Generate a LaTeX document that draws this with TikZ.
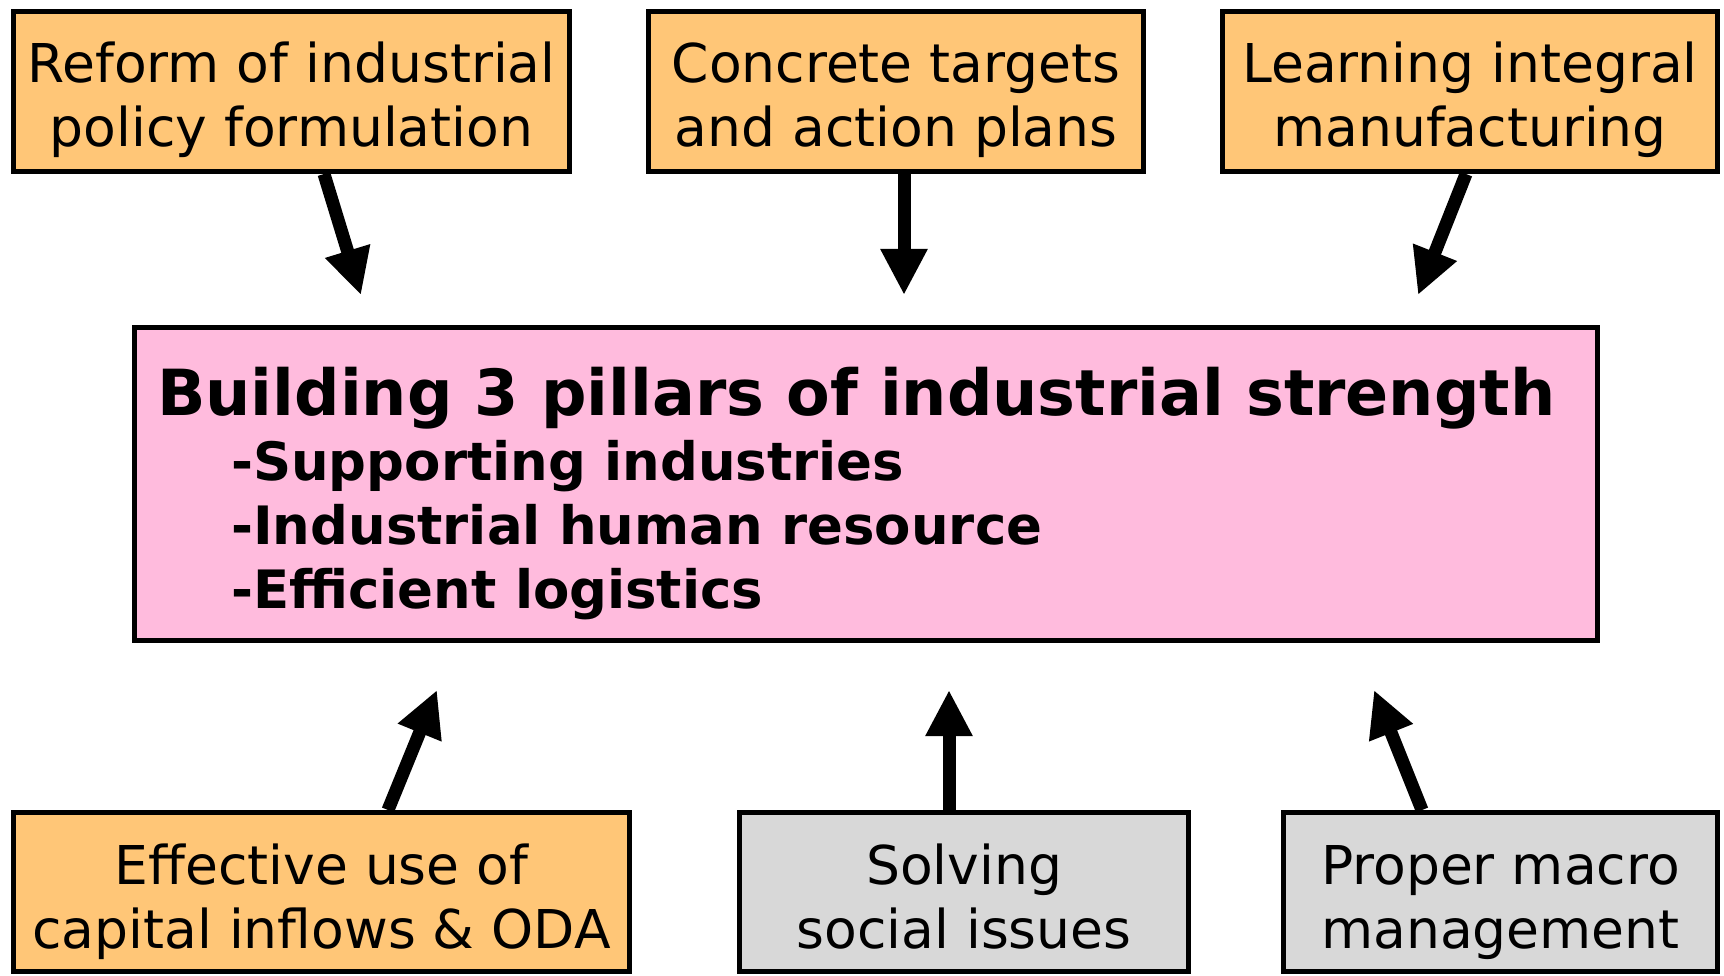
\documentclass[tikz,border=0pt]{standalone}
\usepackage{fontspec}
\setmainfont{DejaVu Sans}
\usetikzlibrary{arrows.meta}
\definecolor{boxorange}{HTML}{FFC677}
\definecolor{boxpink}{HTML}{FFBBDD}
\definecolor{boxgray}{HTML}{D8D8D8}
\begin{document}
\begin{tikzpicture}[x=1pt,y=-1pt,
  box/.style={draw=black, line width=5pt, rectangle, inner sep=0pt},
  obox/.style={box, fill=boxorange},
  gbox/.style={box, fill=boxgray},
  pbox/.style={box, fill=boxpink},
  lbl/.style={align=center, inner sep=0pt, font=\fontsize{53.5}{64}\selectfont},
  ttl/.style={anchor=base west, inner sep=0pt, font=\fontsize{63.6}{64}\selectfont\bfseries},
  itm/.style={anchor=base west, inner sep=0pt, font=\fontsize{52.9}{64}\selectfont\bfseries},
  arr/.style={line width=13pt, -{Triangle[length=46pt,width=44pt]}}
]
\useasboundingbox (0,0) rectangle (1724,976);
% boxes
\node[obox, minimum width=556pt, minimum height=160pt] (t1) at (291.5,91.5) {};
\node[obox, minimum width=495pt, minimum height=160pt] (t2) at (896,91.5) {};
\node[obox, minimum width=494.5pt, minimum height=160pt] (t3) at (1470,91.5) {};
\node[pbox, minimum width=1463pt, minimum height=313pt] (main) at (866,484) {};
\node[obox, minimum width=616pt, minimum height=159pt] (b1) at (321.5,892) {};
\node[gbox, minimum width=449pt, minimum height=159pt] (b2) at (964,892) {};
\node[gbox, minimum width=434pt, minimum height=159pt] (b3) at (1500.5,892) {};
% labels
\node[lbl] (t1l) at (291.5,102) {\strut Reform of industrial\\\strut policy formulation};
\node[lbl] (t2l) at (896,102) {\strut Concrete targets\\\strut and action plans};
\node[lbl] (t3l) at (1470,102) {\strut Learning integral\\\strut manufacturing};
\node[lbl] (b1l) at (321.5,904) {\strut Effective use of\\\strut capital inflows \& ODA};
\node[lbl] (b2l) at (964,904) {\strut Solving\\\strut social issues};
\node[lbl] (b3l) at (1500.5,904) {\strut Proper macro\\\strut management};
\node[ttl] (mt) at (157,415.6) {Building 3 pillars of industrial strength};
\node[itm] (m1) at (231,480.5) {-Supporting industries};
\node[itm] (m2) at (231,544) {-Industrial human resource};
\node[itm] (m3) at (231,608) {-Efficient logistics};
% arrow tips
\coordinate (tip1) at (361,295);
\coordinate (tip2) at (904,295);
\coordinate (tip3) at (1418,295);
\coordinate (tip4) at (437,690);
\coordinate (tip5) at (949,690);
\coordinate (tip6) at (1374,690);
\draw[arr] ([xshift=32.5pt]t1.south) -- (tip1);
\draw[arr] ([xshift=8pt]t2.south) -- (tip2);
\draw[arr] ([xshift=-4pt]t3.south) -- (tip3);
\draw[arr] ([xshift=66.5pt]b1.north) -- (tip4);
\draw[arr] ([xshift=-15pt]b2.north) -- (tip5);
\draw[arr] ([xshift=-78.5pt]b3.north) -- (tip6);
\end{tikzpicture}
\end{document}
